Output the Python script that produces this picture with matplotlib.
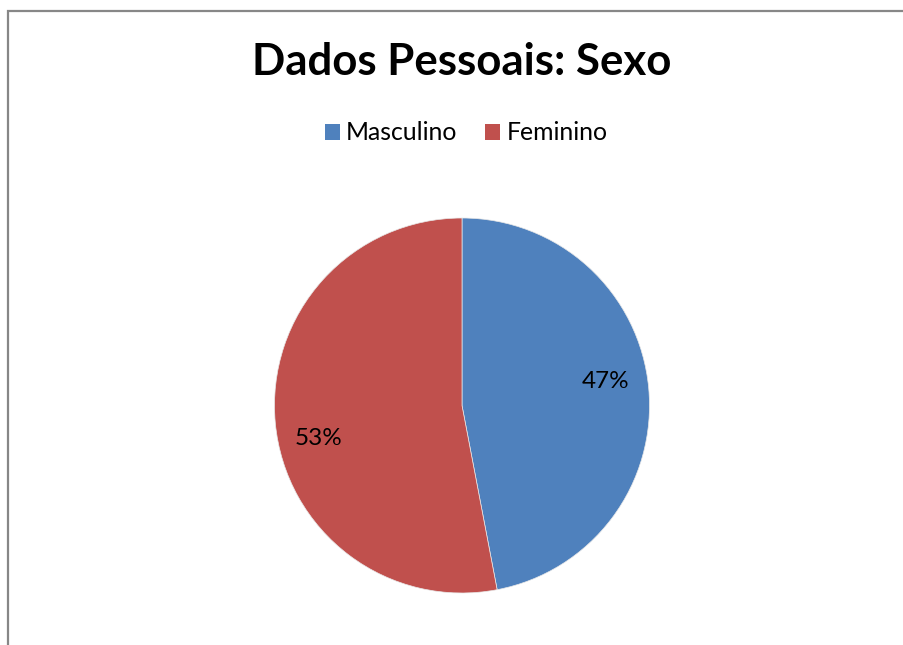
import matplotlib
matplotlib.use("Agg")
import matplotlib.pyplot as plt
from matplotlib.lines import Line2D
from matplotlib.patches import Patch

categories = ["Masculino", "Feminino"]
shares = [47, 53]
colors = ["#4F81BD", "#C0504D"]
title = "Dados Pessoais: Sexo"

plt.rcParams["font.family"] = ["Lato", "DejaVu Sans"]

W, H = 904, 645
fig = plt.figure(figsize=(W / 100, H / 100), dpi=100)
fig.patch.set_facecolor("white")

# chart-area border (left and top edges visible)
fig.add_artist(Line2D([8 / W, 8 / W, 1.0], [0.0, 1 - 10.5 / H, 1 - 10.5 / H],
                      transform=fig.transFigure, color="#878787", lw=1.6,
                      solid_joinstyle="miter"))

cx, cy, r = 462 / W, 1 - 405.5 / H, 187.5
ax = fig.add_axes([cx - r / W, cy - r / H, 2 * r / W, 2 * r / H])
wedges, _, autotexts = ax.pie(
    shares, colors=colors, startangle=90, counterclock=False,
    autopct="%1.0f%%", pctdistance=0.77, radius=1.0,
    wedgeprops=dict(linewidth=0.5, edgecolor="#e8e8e8"),
    textprops=dict(fontsize=17.5, color="black"),
)
# nudge the percentage labels vertically, as the spreadsheet layout does
for t, dy in zip(autotexts, [0.055, -0.105]):
    x, y = t.get_position()
    t.set_position((x, y + dy))
ax.set_xlim(-1, 1)
ax.set_ylim(-1, 1)
ax.set_aspect("equal")
ax.axis("off")

fig.text(cx, 1 - 62 / H, title, ha="center", va="center",
         fontsize=31.5, fontweight="bold", color="black")

handles = [Patch(facecolor=c, edgecolor="none") for c in colors]
fig.legend(handles, categories, loc="center", bbox_to_anchor=(466 / W, 1 - 133 / H),
           ncol=2, frameon=False, fontsize=17.8, handlelength=0.62, handleheight=0.62,
           handletextpad=0.25, columnspacing=1.1, borderpad=0)

fig.savefig("out.png", dpi=100, facecolor="white")
